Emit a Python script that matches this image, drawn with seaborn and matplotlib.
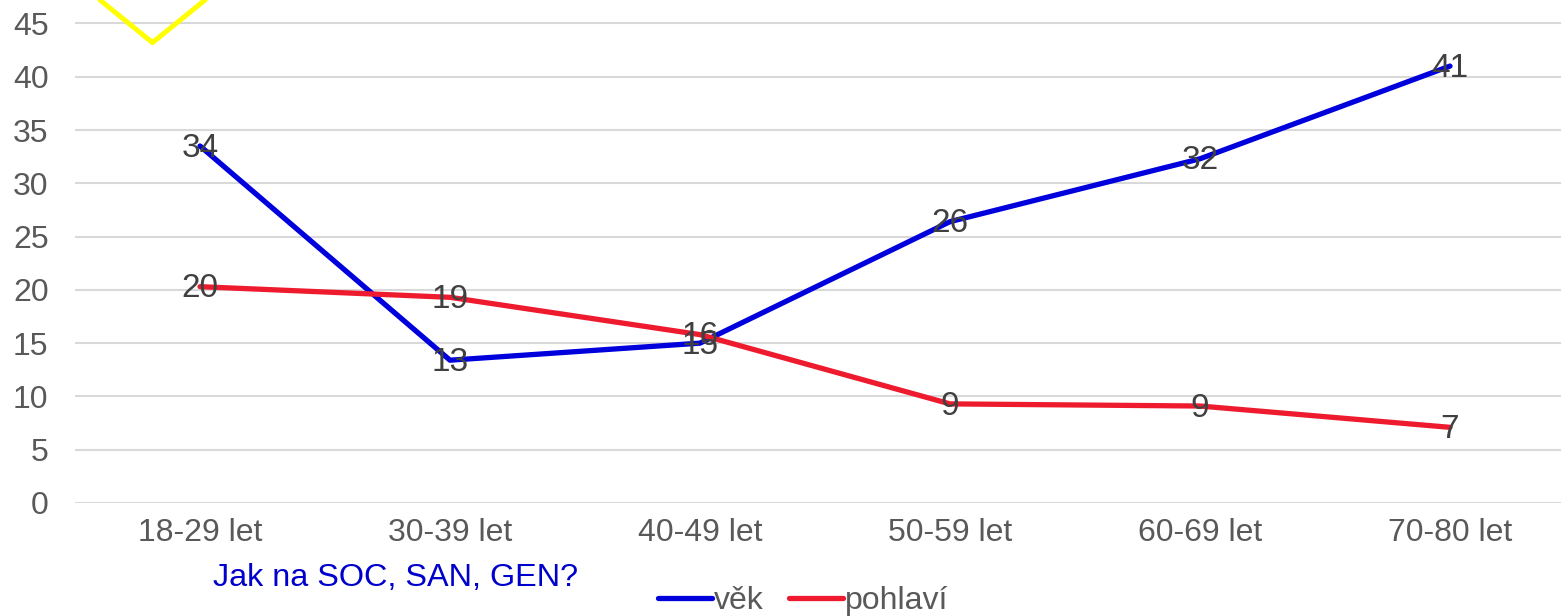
import numpy as np
import pandas as pd
import seaborn as sns
import matplotlib.pyplot as plt
from matplotlib.lines import Line2D

# data
categories = ['18-29 let', '30-39 let', '40-49 let', '50-59 let', '60-69 let', '70-80 let']
vek = [33.5, 13.4, 15.0, 26.4, 32.3, 41.0]
pohlavi = [20.3, 19.3, 15.8, 9.3, 9.1, 7.1]
# yellow callout shape at the top left (partly outside the figure)
callout_x = [-0.40, -0.19, 0.02]
callout_y = [47.2, 43.2, 47.2]

df = pd.DataFrame({
    'kategorie': categories * 2,
    'hodnota': vek + pohlavi,
    'serie': ['věk'] * len(vek) + ['pohlaví'] * len(pohlavi),
})
df['x'] = df.groupby('serie').cumcount()

sns.set_theme(style='white')
plt.rcParams['font.family'] = ['Liberation Sans', 'DejaVu Sans']

colors = {'věk': '#0000DD', 'pohlaví': '#EE1B2E'}

fig = plt.figure(figsize=(15.61, 6.16), dpi=100)
ax = fig.add_axes([75 / 1561, 113 / 616, 1486 / 1561, 503 / 616])

sns.lineplot(data=df, x='x', y='hodnota', hue='serie', palette=colors,
             linewidth=3.8, ax=ax, legend=False, sort=False, zorder=3)

ax.plot(callout_x, callout_y, color='#FFFF00', linewidth=3.6, clip_on=False, zorder=3)

# data labels
for vals in (vek, pohlavi):
    for i, v in enumerate(vals):
        ax.text(i, v - 0.2, f'{v:.0f}', ha='center', va='center', fontsize=24,
                color='#404040', zorder=4)

ax.set_xlim(-0.5, 5.444)
ax.set_ylim(0, 47.2)
ax.set_yticks(np.arange(0, 50, 5))
ax.set_xticks(range(len(categories)))
ax.set_xticklabels(categories)
ax.tick_params(axis='both', labelsize=23, labelcolor='#595959', length=0)
ax.tick_params(axis='x', pad=11)
ax.tick_params(axis='y', pad=19)
ax.yaxis.grid(True, color='#D9D9D9', linewidth=1.5)
ax.set_xlabel('')
ax.set_ylabel('')
for s in ax.spines.values():
    s.set_visible(False)

fig.text(213 / 1561, 1 - 578 / 616, 'Jak na SOC, SAN, GEN?', color='#0000CC',
         fontsize=23.3, ha='left', va='center')

handles = [Line2D([], [], color=colors[k], linewidth=3.8, solid_capstyle='round')
           for k in ['věk', 'pohlaví']]
fig.legend(handles, ['věk', 'pohlaví'], loc='center', ncol=2, frameon=False,
           bbox_to_anchor=(803 / 1561, 1 - 601 / 616), fontsize=23,
           labelcolor='#595959', handlelength=1.7, handletextpad=0.05,
           columnspacing=0.8, borderpad=0)

fig.savefig('out.png', dpi=100)
